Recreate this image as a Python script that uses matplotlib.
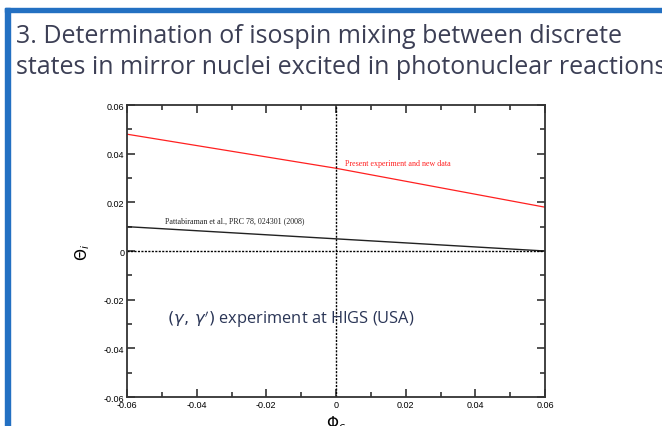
import matplotlib
matplotlib.use('Agg')
import matplotlib.pyplot as plt
from matplotlib.patches import Rectangle
from matplotlib.ticker import MultipleLocator

# mixing amplitude lines: Phi_c -> Theta_i
phi = [-0.06, 0.0, 0.06]
theta_present = [0.048, 0.034, 0.018]
theta_pattabiraman = [0.010, 0.005, 0.0]

x_ticks = [-0.06, -0.04, -0.02, 0, 0.02, 0.04, 0.06]
x_tick_labels = ['-0.06', '-0.04', '-0.02', '0', '0.02', '0.04', '0.06']
y_ticks = [-0.06, -0.04, -0.02, 0, 0.02, 0.04, 0.06]
y_tick_labels = ['-0.06', '-0.04', '-0.02', '0', '0.02', '0.04', '0.06']

title_lines = ['3. Determination of isospin mixing between discrete',
               'states in mirror nuclei excited in photonuclear reactions']

fig = plt.figure(figsize=(6.62, 4.27), dpi=100)
W, H = 662, 427

# slide frame
blue = '#2370C2'
fig.patches.append(Rectangle((5 / W, 0), 5 / W, 1 - 9 / H, transform=fig.transFigure,
                             color=blue, zorder=0))
fig.patches.append(Rectangle((5 / W, 1 - 13 / H), 1, 4 / H, transform=fig.transFigure,
                             color=blue, zorder=0))

title_color = '#3C3F55'
fig.text(16 / W, 1 - 43 / H, title_lines[0], fontsize=18, family='Open Sans',
         color=title_color, va='baseline')
fig.text(16 / W, 1 - 74 / H, title_lines[1], fontsize=18, family='Open Sans',
         color=title_color, va='baseline')

ax = fig.add_axes([127 / W, 1 - 398 / H, 418 / W, 292 / H])
ax.plot(phi, theta_present, color='#FF2020', lw=0.9)
ax.plot(phi, theta_pattabiraman, color='#222222', lw=1.0)
ax.axhline(0, color='black', lw=1.0, ls=(0, (1.5, 1)))
ax.axvline(0, color='black', lw=1.0, ls=(0, (1.5, 1)))

ax.set_xlim(-0.06, 0.06)
ax.set_ylim(-0.06, 0.06)
ax.set_xticks(x_ticks)
ax.set_xticklabels(x_tick_labels)
ax.set_yticks(y_ticks)
ax.set_yticklabels(y_tick_labels)
ax.xaxis.set_minor_locator(MultipleLocator(0.01))
ax.yaxis.set_minor_locator(MultipleLocator(0.01))
ax.tick_params(which='both', direction='in', top=True, right=True,
               color='#333333', width=1.2)
ax.tick_params(which='major', length=6, labelsize=6.5, pad=2)
ax.tick_params(which='minor', length=3.5)
for lab in ax.get_xticklabels() + ax.get_yticklabels():
    lab.set_family('Liberation Sans')
for sp in ax.spines.values():
    sp.set_linewidth(1.3)
    sp.set_color('#333333')

ax.set_ylabel(r'$\Theta_i$', fontsize=11)
ax.yaxis.set_label_coords(-0.083, 0.5)
ax.set_xlabel(r'$\Phi_c$', fontsize=11)
ax.xaxis.set_label_coords(0.5, -0.055)

ax.text(0.0026, 0.036, 'Present experiment and new data', color='#FF2020',
        fontsize=5.8, family='Liberation Serif', va='center')
ax.text(-0.049, 0.0127, 'Pattabiraman et al., PRC 78, 024301 (2008)', color='#222222',
        fontsize=5.8, family='Liberation Serif', va='center')
ax.text(-0.0485, -0.0295, r'$(\gamma,\,\gamma^\prime)$ experiment at HIGS (USA)',
        color='#2A3556', fontsize=11.8, family='Open Sans', va='baseline')

fig.savefig('out.png', dpi=100)
